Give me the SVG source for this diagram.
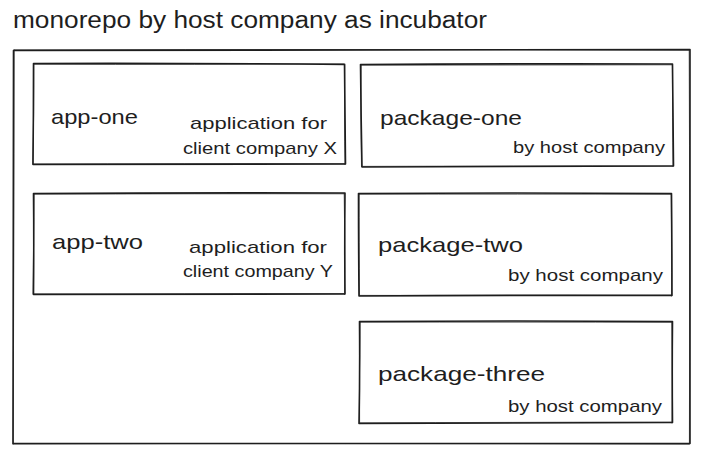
<svg xmlns="http://www.w3.org/2000/svg" width="709" height="463" viewBox="0 0 709 463">
  <style>
    .box { fill: none; stroke: #1e1e1e; stroke-width: 1.6; stroke-linecap: round; stroke-linejoin: round; }
    .box2 { fill: none; stroke: #1e1e1e; stroke-width: 0.9; stroke-linecap: round; opacity: 0.8; }
    text { font-family: "Liberation Sans", "DejaVu Sans", sans-serif; fill: #1e1e1e; }
    .title { font-size: 23px; }
    .name { font-size: 21px; }
    .note { font-size: 17px; }
  </style>
  <rect width="709" height="463" fill="#ffffff"/>

  <text class="title" x="13" y="28" textLength="474" lengthAdjust="spacingAndGlyphs">monorepo by host company as incubator</text>

  <!-- outer container -->
  <g id="monorepo">
    <path class="box" d="M13.5 50.5 Q 350 48.5 690 49.5 Q 689.5 250 690 443.5 Q 350 444 13 443.5 Q 14 250 13.5 50.5 Z"/>
    <path class="box2" d="M14 49.8 Q 360 49 689.5 50.2 M689.2 50 Q 690 240 689.4 444 M689 444.2 Q 340 443 12.8 444 M13.2 444 Q 13.8 260 14.2 50"/>
  </g>

  <g id="app-one">
    <path class="box" d="M33.5 63.5 Q 190 63 344.5 64.5 Q 345 115 345.5 164 Q 190 164.5 33 164.5 Q 33.5 114 33.5 63.5 Z"/>
    <path class="box2" d="M34 64.3 Q 200 64.6 344 63.8 M344.8 64 Q 344.2 120 345 164.5 M345 163.8 Q 180 163.6 33.5 163.9 M32.8 164 Q 34 110 33.8 64"/>
    <text class="name" x="51" y="124" textLength="87" lengthAdjust="spacingAndGlyphs">app-one</text>
    <text class="note" x="190" y="129" textLength="137" lengthAdjust="spacingAndGlyphs">application for</text>
    <text class="note" x="183" y="154" textLength="154" lengthAdjust="spacingAndGlyphs">client company X</text>
  </g>

  <g id="app-two">
    <path class="box" d="M33.5 193.5 Q 190 192.5 345 193 Q 344.5 245 345 294 Q 190 294.5 33.5 294.5 Q 34 244 33.5 193.5 Z"/>
    <path class="box2" d="M34 194.2 Q 200 193.6 344.5 193.8 M344.2 193.5 Q 345 250 344.6 294.5 M344.6 293.6 Q 180 294 34 293.8 M33 294 Q 33.6 240 34.2 194"/>
    <text class="name" x="52" y="249" textLength="91" lengthAdjust="spacingAndGlyphs">app-two</text>
    <text class="note" x="189" y="253" textLength="138" lengthAdjust="spacingAndGlyphs">application for</text>
    <text class="note" x="183" y="277" textLength="150" lengthAdjust="spacingAndGlyphs">client company Y</text>
  </g>

  <g id="package-one">
    <path class="box" d="M360.5 64.5 Q 516 63.5 672.5 64 Q 673 115 673.5 166 Q 516 166.5 362 167 Q 361 115 360.5 64.5 Z"/>
    <path class="box2" d="M361 65.2 Q 520 65 672 64.8 M672.4 64.5 Q 672.6 120 673 166.4 M672.6 165.8 Q 510 166 361.6 166.4 M361.5 166.5 Q 360.5 110 361.2 65"/>
    <text class="name" x="380" y="125" textLength="142" lengthAdjust="spacingAndGlyphs">package-one</text>
    <text class="note" x="513" y="153" textLength="152" lengthAdjust="spacingAndGlyphs">by host company</text>
  </g>

  <g id="package-two">
    <path class="box" d="M358.5 193.5 Q 515 192.5 671.5 193.5 Q 672 245 672 295.5 Q 515 295 359 296 Q 358.5 245 358.5 193.5 Z"/>
    <path class="box2" d="M359 194.2 Q 520 194 671 194.3 M671.2 194 Q 671.6 250 671.5 296 M671.4 295 Q 510 295.6 359.5 295.4 M359.4 295.5 Q 359 240 359.2 194"/>
    <text class="name" x="378" y="252" textLength="145" lengthAdjust="spacingAndGlyphs">package-two</text>
    <text class="note" x="508" y="281" textLength="155" lengthAdjust="spacingAndGlyphs">by host company</text>
  </g>

  <g id="package-three">
    <path class="box" d="M359.5 321.5 Q 516 320.5 672.5 321.5 Q 672 372 672.5 422.5 Q 515 423 359 423.5 Q 360 372 359.5 321.5 Z"/>
    <path class="box2" d="M360 322.2 Q 520 322 672 322.3 M671.8 322 Q 672.5 380 672 423 M671.8 422 Q 510 422.4 360 422.8 M359.6 423 Q 359.2 370 360.2 322"/>
    <text class="name" x="378" y="381" textLength="167" lengthAdjust="spacingAndGlyphs">package-three</text>
    <text class="note" x="508" y="412" textLength="154" lengthAdjust="spacingAndGlyphs">by host company</text>
  </g>
</svg>
